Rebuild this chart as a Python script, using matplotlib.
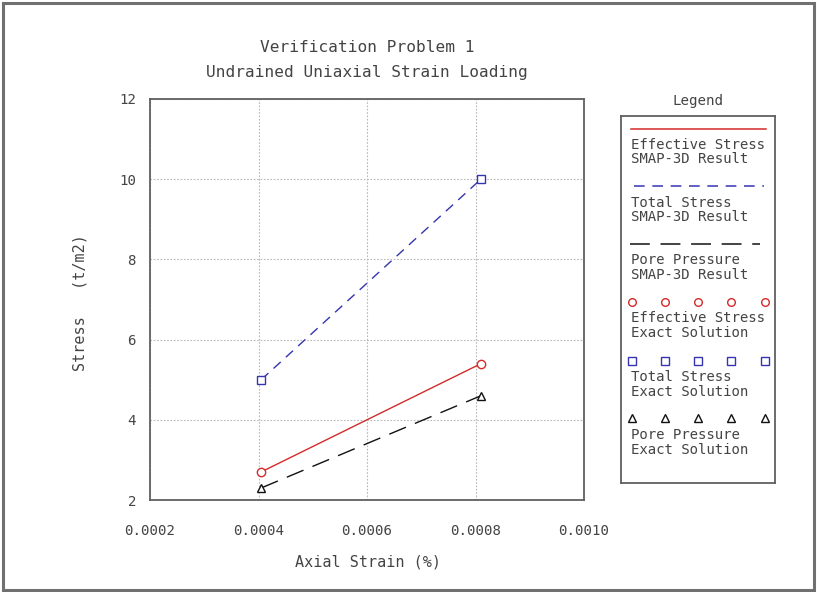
import matplotlib
matplotlib.use("Agg")
import matplotlib.pyplot as plt
from matplotlib.patches import Rectangle

# Data: two load steps of the undrained uniaxial strain test
strain = [0.000405, 0.00081]
eff_smap = [2.7, 5.4]
tot_smap = [5.0, 10.0]
pore_smap = [2.3, 4.6]
eff_exact = [2.7, 5.4]
tot_exact = [5.0, 10.0]
pore_exact = [2.3, 4.6]

x_ticks = [0.0002, 0.0004, 0.0006, 0.0008, 0.0010]
x_tick_labels = ["0.0002", "0.0004", "0.0006", "0.0008", "0.0010"]
y_ticks = [2, 4, 6, 8, 10, 12]
y_tick_labels = ["2", "4", "6", "8", "10", "12"]

W, H = 817, 592
TXT = "#444444"
RED = "#d42a2a"
BLUE = "#3535b0"
BLACK = "#111111"
FONT = "DejaVu Sans Mono"

plt.rcParams["font.family"] = FONT

fig = plt.figure(figsize=(W / 100, H / 100), dpi=100)
fig.patch.set_facecolor("white")


def fx(px):
    return px / W


def fy(py):
    return 1 - py / H


# outer frame
fig.patches.append(Rectangle((fx(3), fy(590)), fx(811), 587 / H, transform=fig.transFigure,
                             fill=False, edgecolor="#707070", linewidth=2.2))

ax = fig.add_axes([fx(150), fy(500), fx(434), 401 / H])
ax.set_xlim(0.0002, 0.0010)
ax.set_ylim(2, 12)
ax.set_xticks(x_ticks)
ax.set_xticklabels(x_tick_labels)
ax.set_yticks(y_ticks)
ax.set_yticklabels(y_tick_labels)
ax.tick_params(length=0, labelsize=10.2, labelcolor=TXT)
ax.tick_params(axis="x", pad=17)
ax.tick_params(axis="y", pad=10)
ax.grid(True, color="#b8b8b8", linestyle=(0, (1.5, 1.5)), linewidth=0.8)
for s in ax.spines.values():
    s.set_color("#606060")
    s.set_linewidth(1.3)

ax.plot(strain, eff_smap, color=RED, linewidth=1.0, linestyle="-")
ax.plot(strain, tot_smap, color=BLUE, linewidth=1.0, linestyle=(0, (7, 5)))
ax.plot(strain, pore_smap, color=BLACK, linewidth=1.0, linestyle=(0, (13, 7)))

mk = dict(linestyle="none", markersize=6, markeredgewidth=1.0, markerfacecolor="white", zorder=5)
ax.plot(strain, eff_exact, marker="o", markeredgecolor=RED, **mk)
ax.plot(strain, tot_exact, marker="s", markeredgecolor=BLUE, **mk)
ax.plot(strain, pore_exact, marker="^", markeredgecolor=BLACK, **mk)

# titles and axis labels
fig.text(fx(367), fy(47), "Verification Problem 1", ha="center", va="center",
         fontsize=11.6, color=TXT)
fig.text(fx(367), fy(72), "Undrained Uniaxial Strain Loading", ha="center", va="center",
         fontsize=11.6, color=TXT)
fig.text(fx(368), fy(562), "Axial Strain (%)", ha="center", va="center",
         fontsize=10.9, color=TXT)
fig.text(fx(80), fy(303), "Stress   (t/m2)", ha="center", va="center",
         rotation=90, fontsize=10.9, color=TXT)

# legend panel
fig.text(fx(698), fy(101), "Legend", ha="center", va="center", fontsize=10.2, color=TXT)
lg = fig.add_axes([fx(621), fy(483), fx(154), 367 / H])
lg.set_xlim(621, 775)
lg.set_ylim(483, 116)
lg.set_xticks([])
lg.set_yticks([])
for s in lg.spines.values():
    s.set_color("#606060")
    s.set_linewidth(1.3)

lg.plot([631, 766], [129, 129], color=RED, linewidth=1.1)
lg.plot([634, 764], [186, 186], color=BLUE, linewidth=1.1, linestyle=(0, (7, 5)))
lg.plot([630, 760], [244, 244], color=BLACK, linewidth=1.1, linestyle=(0, (13, 7)))

sample_x = [632, 665, 698, 731, 765]
lmk = dict(linestyle="none", markersize=5.5, markeredgewidth=1.0, markerfacecolor="white")
lg.plot(sample_x, [302] * 5, marker="o", markeredgecolor=RED, **lmk)
lg.plot(sample_x, [361] * 5, marker="s", markeredgecolor=BLUE, **lmk)
lg.plot(sample_x, [418] * 5, marker="^", markeredgecolor=BLACK, **lmk)

entries = [
    (145, "Effective Stress"), (159, "SMAP-3D Result"),
    (203, "Total Stress"), (217, "SMAP-3D Result"),
    (260, "Pore Pressure"), (275, "SMAP-3D Result"),
    (318, "Effective Stress"), (333, "Exact Solution"),
    (377, "Total Stress"), (392, "Exact Solution"),
    (435, "Pore Pressure"), (450, "Exact Solution"),
]
for y, t in entries:
    lg.text(631, y, t, ha="left", va="center", fontsize=10.1, color=TXT)

fig.savefig("out.png", dpi=100, facecolor="white")
